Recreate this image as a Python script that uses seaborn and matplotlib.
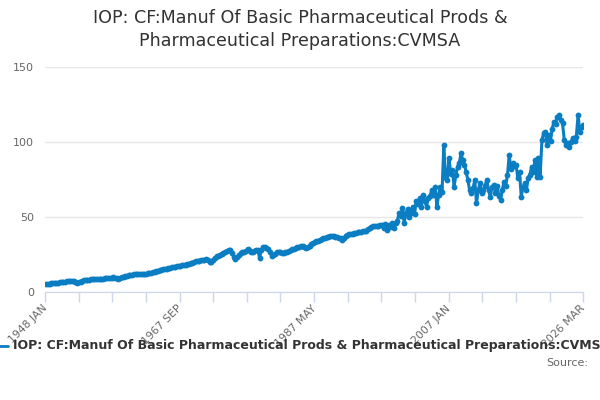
import numpy as np
import pandas as pd
import seaborn as sns
import matplotlib
matplotlib.use("Agg")
import matplotlib.pyplot as plt
from matplotlib.transforms import ScaledTranslation

sns.set_style("white")
plt.rcParams['font.family'] = ['DejaVu Sans']

title = "IOP: CF:Manuf Of Basic Pharmaceutical Prods &\nPharmaceutical Preparations:CVMSA"
series_name = "IOP: CF:Manuf Of Basic Pharmaceutical Prods & Pharmaceutical Preparations:CVMSA"

# quarterly readings (Mar, Jun, Sep, Dec), 1948 Mar .. 2026 Mar
values = [
    5.2, 5.4, 5.5, 5.7,  5.8, 6.0, 6.1, 6.3,  6.5, 6.7, 6.9, 7.0,  7.2, 7.4, 7.5, 7.5,
    7.3, 6.6, 5.9, 6.4,  7.0, 7.5, 7.8, 8.0,  8.1, 8.3, 8.4, 8.5,  8.6, 8.7, 8.8, 8.9,
    8.9, 9.0, 9.1, 9.2,  9.4, 9.5, 9.6, 9.7,  9.5, 9.1, 8.9, 9.3,  9.8, 10.3, 10.7, 11.0,
    11.3, 11.5, 11.6, 11.7,  11.8, 11.9, 12.0, 12.0,  12.1, 12.2, 12.3, 12.4,  12.7, 13.0, 13.2, 13.5,
    13.8, 14.1, 14.4, 14.7,  15.1, 15.4, 15.6, 15.9,  16.2, 16.5, 16.7, 16.9,  17.1, 17.3, 17.5, 17.8,
    18.0, 18.3, 18.7, 19.0,  19.3, 19.6, 20.0, 20.4,  20.7, 20.9, 21.1, 21.4,  21.6, 21.8, 21.5, 20.3,
    19.7, 21.5, 23.0, 23.8,  24.3, 24.9, 25.6, 26.2,  26.8, 27.5, 28.0, 27.8,  26.0, 23.5, 22.3, 23.5,
    25.0, 25.9, 26.5, 27.0,  27.5, 28.5, 28.0, 26.5,  26.5, 27.5, 28.2, 28.0,  22.5, 28.0, 30.2, 30.0,
    29.5, 29.0, 27.0, 24.0,  24.5, 25.3, 26.5, 26.9,  26.5, 26.0, 25.8, 26.5,  27.0, 27.5, 28.0, 28.5,
    28.8, 29.3, 29.8, 30.2,  30.6, 30.9, 30.3, 29.6,  29.9, 30.8, 32.0, 32.9,  33.3, 33.7, 34.2, 34.8,
    35.3, 35.8, 36.2, 36.5,  36.8, 37.3, 37.6, 37.2,  37.0, 36.8, 36.3, 35.8,  35.0, 36.3, 37.5, 38.0,
    38.5, 38.7, 39.0, 39.3,  39.5, 39.7, 39.9, 40.2,  40.4, 40.6, 41.0, 41.8,  42.5, 43.5, 44.0, 44.2,
    44.0, 44.3, 44.5, 44.7,  43.0, 45.5, 41.5, 44.5,  43.6, 46.0, 43.0, 45.8,  47.5, 52.4, 50.5, 56.0,
    46.0, 52.4, 55.5, 50.2,  53.0, 56.9, 52.0, 61.0,  58.5, 62.4, 57.0, 64.7,  60.5, 56.9, 63.0, 64.0,
    68.0, 64.5, 70.2, 57.0,  64.7, 70.2, 67.0, 98.0,  77.0, 74.7, 89.1, 79.0,  81.3, 70.2, 78.0, 83.6,
    86.0, 92.4, 88.0, 85.0,  80.0, 74.7, 68.0, 65.8,  69.1, 74.7, 59.1, 68.0,  72.4, 66.0, 68.0, 71.0,
    74.7, 68.0, 63.6, 70.0,  71.3, 66.0, 70.5, 64.0,  61.3, 68.0, 73.6, 71.0,  78.0, 91.3, 82.0, 85.8,
    84.0, 85.0, 75.8, 80.0,  63.6, 70.0, 72.4, 68.0,  75.8, 78.0, 83.6, 80.0,  88.0, 76.9, 89.1, 76.9,
    101.3, 105.8, 106.9, 98.0,  104.7, 101.0, 109.0, 113.6,  112.0, 116.9, 118.0, 114.7,
    112.4, 101.3, 98.0, 99.5,  96.9, 100.2, 103.0, 100.5,  103.6, 118.0, 106.9, 110.2,
    111.3,
]
dates = pd.date_range("1948-03-01", periods=len(values), freq="3MS")

tick_labels = ["1948 JAN", "1967 SEP", "1987 MAY", "2007 JAN", "2026 MAR"]
y_ticks = [0, 50, 100, 150]

df = pd.DataFrame({"date": dates, "value": values})

blue = "#0b7dc2"
grid_c = "#e6e6e6"
axis_c = "#ccd6eb"
text_c = "#666666"

fig = plt.figure(figsize=(6, 4), dpi=100)
ax = fig.add_axes([0.075, 0.27, 0.897, 0.5625])

sns.lineplot(data=df, x="date", y="value", ax=ax, color=blue, linewidth=2.2,
             marker="o", markersize=4.2, markeredgewidth=0, legend=False)

x0 = pd.Timestamp("1948-01-01")
x1 = pd.Timestamp("2026-03-01")
ax.set_xlim(x0, x1)
ax.set_ylim(0, 150)

ax.set_yticks(y_ticks)
ax.set_yticklabels([str(v) for v in y_ticks], color=text_c, fontsize=8)
ax.yaxis.grid(True, color=grid_c, linewidth=1)
ax.tick_params(axis="y", left=False, length=0, pad=8)

span = x1 - x0
all_ticks = [x0 + span * i / 16 for i in range(17)]
ax.set_xticks(all_ticks)
ax.set_xticklabels([tick_labels[i // 4] if i % 4 == 0 else "" for i in range(17)],
                   rotation=45, ha="right", va="top", color=text_c, fontsize=7.8)
ax.tick_params(axis="x", bottom=True, direction="out", length=7.5, color=axis_c,
               width=1, pad=0.5)
shift = ScaledTranslation(4 / 100, 0, fig.dpi_scale_trans)
for lbl in ax.get_xticklabels():
    lbl.set_transform(lbl.get_transform() + shift)

for s in ["top", "right", "left"]:
    ax.spines[s].set_visible(False)
ax.spines["bottom"].set_color(axis_c)
ax.set_xlabel("")
ax.set_ylabel("")

fig.text(0.5, 0.977, title, ha="center", va="top", fontsize=12.6, color="#333333",
         linespacing=1.35)

fig.add_artist(plt.Line2D([0, 8 / 600], [1 - 346 / 400] * 2, color=blue, linewidth=2))
fig.text(13 / 600, 1 - 346 / 400, series_name, ha="left", va="center", fontsize=9,
         fontweight="bold", color="#333333")
fig.text(588 / 600, 1 - 363 / 400, "Source:", ha="right", va="center", fontsize=8,
         color=text_c)

fig.savefig("out.png", dpi=100)
